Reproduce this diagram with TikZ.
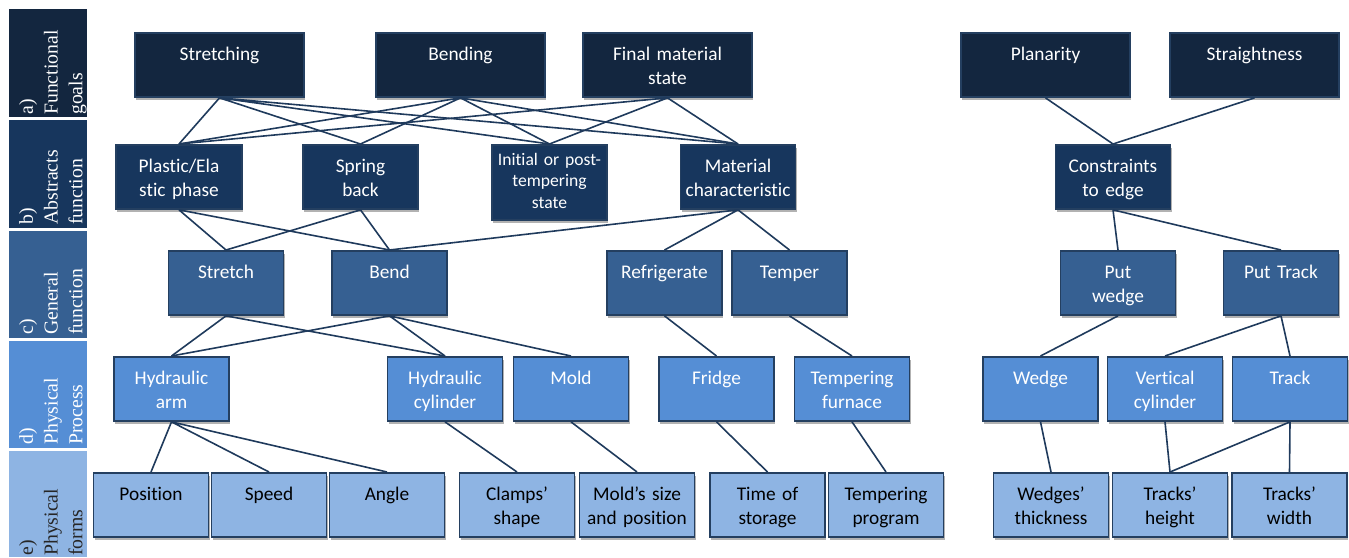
\documentclass[tikz,border=0pt]{standalone}
\usepackage{fontspec}
\setmainfont{Carlito}[Ligatures={NoCommon}]
\newfontfamily\bandfont{Liberation Serif}
\usetikzlibrary{shadows}

\definecolor{goalblue}{HTML}{13263F}
\definecolor{abstractblue}{HTML}{17365D}
\definecolor{generalblue}{HTML}{366092}
\definecolor{processblue}{HTML}{558ED5}
\definecolor{formblue}{HTML}{8EB4E3}
\definecolor{borderblue}{HTML}{243F60}
\definecolor{linkblue}{HTML}{1F3A5C}

\begin{document}
\begin{tikzpicture}[x=0.75pt,y=-0.75pt,
    box/.style={draw=borderblue, line width=1.4pt, anchor=north, inner sep=0pt,
        align=center, text width=86.25pt, text height=21pt, text depth=27pt,
        font=\fontsize{14.5}{17.5}\selectfont, text=white,
        drop shadow={shadow xshift=1pt, shadow yshift=-2pt, fill=black!30, opacity=1}},
    widebox/.style={box, text width=126.75pt},
    goal/.style={widebox, fill=goalblue},
    abstract/.style={box, fill=abstractblue},
    general/.style={box, fill=generalblue},
    process/.style={box, fill=processblue},
    form/.style={box, fill=formblue, text=black},
    band/.style={rotate=90, anchor=north west, inner sep=0pt, align=left,
        font=\bandfont\fontsize{14.8}{18.5}\selectfont, text=white},
    link/.style={draw=linkblue, line width=1.2pt}]
    \useasboundingbox (0,0) rectangle (1349,557);

    % level bands
    \fill[goalblue] (9,9) rectangle (87,117);
    \fill[abstractblue] (9,120) rectangle (87,228);
    \fill[generalblue] (9,231) rectangle (87,338);
    \fill[processblue] (9,341) rectangle (87,448);
    \fill[formblue] (9,451) rectangle (87,557);
    \node[band] (la) at (19,115) {a)\\Functional\\goals};
    \node[band] (lb) at (19,225) {b)\\Abstracts\\function};
    \node[band] (lc) at (19,335) {c)\\General\\function};
    \node[band] (ld) at (19,445) {d)\\Physical\\Process};
    \node[band, text=black!85] (le) at (19,556) {e)\\Physical\\forms};

    % a) functional goals
    \node[goal] (stretching) at (219.5,32) {Stretching};
    \node[goal] (bending) at (460.5,32) {Bending};
    \node[goal] (final) at (667.5,32) {Final material\\state};
    \node[goal] (planarity) at (1045.5,32) {Planarity};
    \node[goal] (straightness) at (1254.5,32) {Straightness};

    % b) abstracts function
    \node[abstract, text width=94.5pt] (plastic) at (179,144) {Plastic/Ela\\stic phase};
    \node[abstract] (spring) at (360.5,144) {Spring\\back};
    \node[abstract, text height=15.5pt, text depth=40.75pt,
        font=\fontsize{13.2}{16}\selectfont] (initial) at (549.5,144) {Initial or post-\\tempering\\state};
    \node[abstract] (material) at (738,144) {Material\\characteristic};
    \node[abstract] (constraints) at (1113,144) {Constraints\\to edge};

    % c) general function
    \node[general] (stretch) at (226,250) {Stretch};
    \node[general] (bend) at (389.5,250) {Bend};
    \node[general] (refrigerate) at (664.5,250) {Refrigerate};
    \node[general] (temper) at (789.5,250) {Temper};
    \node[general] (putwedge) at (1118,250) {Put\\wedge};
    \node[general] (puttrack) at (1281,250) {Put Track};

    % d) physical process
    \node[process] (hydarm) at (171.5,356) {Hydraulic\\arm};
    \node[process] (hydcyl) at (445,356) {Hydraulic\\cylinder};
    \node[process] (mold) at (571,356) {Mold};
    \node[process] (fridge) at (716.5,356) {Fridge};
    \node[process] (furnace) at (852,356) {Tempering\\furnace};
    \node[process] (wedge) at (1040.5,356) {Wedge};
    \node[process] (vertcyl) at (1165,356) {Vertical\\cylinder};
    \node[process] (track) at (1290,356) {Track};

    % e) physical forms
    \node[form] (position) at (151,472) {Position};
    \node[form] (speed) at (269,472) {Speed};
    \node[form] (angle) at (387,472) {Angle};
    \node[form] (clamps) at (517,472) {Clamps'\\shape};
    \node[form] (moldsize) at (637,472) {Mold's size\\and position};
    \node[form] (storage) at (767.5,472) {Time of\\storage};
    \node[form] (program) at (886,472) {Tempering\\program};
    \node[form] (thickness) at (1051,472) {Wedges'\\thickness};
    \node[form] (theight) at (1170,472) {Tracks'\\height};
    \node[form] (twidth) at (1289.5,472) {Tracks'\\width};

    % links a) -> b)
    \draw[link] (stretching.south) -- (plastic.north) (stretching.south) -- (spring.north)
        (stretching.south) -- (initial.north) (stretching.south) -- (material.north);
    \draw[link] (bending.south) -- (plastic.north) (bending.south) -- (spring.north)
        (bending.south) -- (initial.north) (bending.south) -- (material.north);
    \draw[link] (final.south) -- (plastic.north) (final.south) -- (initial.north)
        (final.south) -- (material.north);
    \draw[link] (planarity.south) -- (constraints.north) (straightness.south) -- (constraints.north);

    % links b) -> c)
    \draw[link] (plastic.south) -- (stretch.north) (plastic.south) -- (bend.north);
    \draw[link] (spring.south) -- (stretch.north) (spring.south) -- (bend.north);
    \draw[link] (material.south) -- (bend.north) (material.south) -- (refrigerate.north)
        (material.south) -- (temper.north);
    \draw[link] (constraints.south) -- (putwedge.north) (constraints.south) -- (puttrack.north);

    % links c) -> d)
    \draw[link] (stretch.south) -- (hydarm.north) (stretch.south) -- (hydcyl.north);
    \draw[link] (bend.south) -- (hydarm.north) (bend.south) -- (hydcyl.north)
        (bend.south) -- (mold.north);
    \draw[link] (refrigerate.south) -- (fridge.north) (temper.south) -- (furnace.north);
    \draw[link] (putwedge.south) -- (wedge.north);
    \draw[link] (puttrack.south) -- (vertcyl.north) (puttrack.south) -- (track.north);

    % links d) -> e)
    \draw[link] (hydarm.south) -- (position.north) (hydarm.south) -- (speed.north)
        (hydarm.south) -- (angle.north);
    \draw[link] (hydcyl.south) -- (clamps.north) (mold.south) -- (moldsize.north);
    \draw[link] (fridge.south) -- (storage.north) (furnace.south) -- (program.north);
    \draw[link] (wedge.south) -- (thickness.north) (vertcyl.south) -- (theight.north);
    \draw[link] (track.south) -- (theight.north) (track.south) -- (twidth.north);
\end{tikzpicture}
\end{document}
